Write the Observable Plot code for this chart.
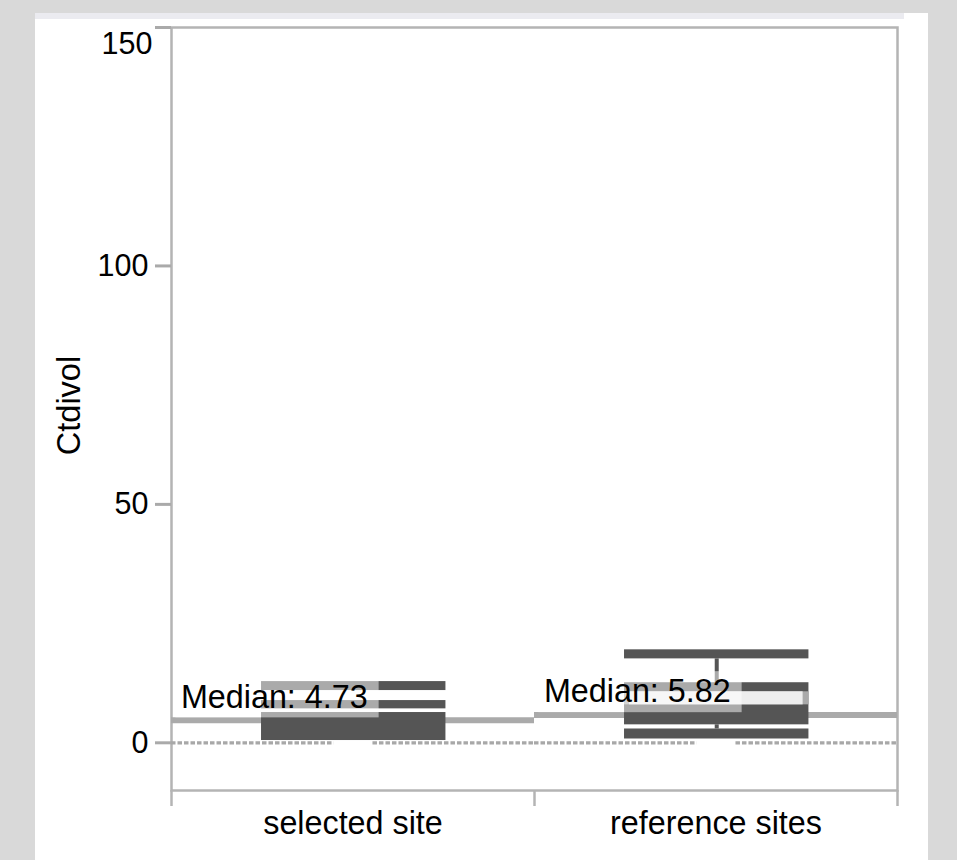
<!DOCTYPE html>
<html>
<head>
<meta charset="utf-8">
<script src="https://cdn.jsdelivr.net/npm/d3@7"></script>
<script src="https://cdn.jsdelivr.net/npm/@observablehq/plot@0.6"></script>
<style>
  html, body { margin: 0; padding: 0; }
  body { width: 957px; height: 860px; overflow: hidden; position: relative; background: #d9d9d9; font-family: "Liberation Sans", Arial, sans-serif; }
  #panel { position: absolute; left: 35px; top: 13px; width: 893px; height: 847px; background: #fff; }
  #strip { position: absolute; left: 0; top: 0; width: 869px; height: 6px; background: #ebebf0; z-index: 2; }
  #chart { position: absolute; left: 0; top: 0; }
</style>
</head>
<body>
<div id="panel"><div id="chart"></div><div id="strip"></div></div>
<script>
// ---- data ----
const categories = ["selected site", "reference sites"];
const medians = [4.73, 5.82];
const medianLabels = ["Median: 4.73", "Median: 5.82"];
const yTicks = [0, 50, 100, 150];
// dark box segments [low, high]
const selectedSegments = [[0.48, 6.35], [7.12, 8.86], [10.96, 12.84]];
const referenceSegments = [[0.8, 2.9], [3.77, 12.6], [17.6, 19.5]];
const referenceInnerBand = [[7.96, 10.7]];
const referenceWhiskers = [[2.9, 3.77], [12.6, 17.6]];

// ---- tables ----
const segs = [
  ...selectedSegments.map(([lo, hi]) => ({c: 0, lo, hi})),
  ...referenceSegments.map(([lo, hi]) => ({c: 1, lo, hi}))
];
const inner = referenceInnerBand.map(([lo, hi]) => ({c: 1, lo, hi}));
const whisk = referenceWhiskers.map(([lo, hi]) => ({c: 1, lo, hi}));
const med = medians.map((m, i) => ({c: i, m, label: medianLabels[i]}));
const zeroSegs = categories.flatMap((d, i) => [{a: i, b: i + 0.448}, {a: i + 0.555, b: i + 1}]);

const dark = "#555555";
const gray = "#aaaaaa";
const BL = 0.248, BR = 0.756;

const chart = Plot.plot({
  width: 893,
  height: 847,
  marginLeft: 136,
  marginRight: 31,
  marginTop: 14,
  marginBottom: 70,
  style: {background: "transparent", fontFamily: "'Liberation Sans', Arial, sans-serif", color: "#000", overflow: "visible"},
  x: {domain: [0, 2]},
  y: {domain: [-10, 150]},
  marks: [
    Plot.frame({stroke: "#b4b4b4", strokeWidth: 2.5}),
    Plot.ruleY(med, {y: "m", x1: d => d.c, x2: d => d.c + 1, stroke: gray, strokeWidth: 6}),
    Plot.ruleX(whisk, {x: d => d.c + 0.502, y1: "lo", y2: "hi", stroke: dark, strokeWidth: 4}),
    Plot.rect(segs, {x1: d => d.c + BL, x2: d => d.c + BR, y1: "lo", y2: "hi", fill: dark}),
    Plot.rect(inner, {x1: d => d.c + BL, x2: d => d.c + BR, y1: "lo", y2: "hi", fill: gray}),
    Plot.rect(inner, {x1: d => d.c + BL + 0.014, x2: d => d.c + BR - 0.016, y1: "lo", y2: "hi", fill: "#eeeeee"}),
    Plot.ruleY(zeroSegs, {y: 0, x1: "a", x2: "b", stroke: "#a8a8a8", strokeWidth: 3.2, strokeDasharray: "4.5,2"}),
    Plot.rect(med, {x1: d => d.c + 0.012, x2: d => d.c + 0.572, y1: d => d.m + 0.5, y2: d => d.m + 9.1, fill: "white", fillOpacity: 0.5}),
    Plot.text(med, {x: d => d.c + 0.026, y: "m", text: "label", dy: -23, textAnchor: "start", lineAnchor: "middle", fontSize: 32.3, fill: "#000"}),
    Plot.axisX({ticks: [0, 1, 2], tickSize: 16, tickFormat: () => "", label: null, stroke: "#b4b4b4", strokeWidth: 2.5}),
    Plot.axisY({ticks: yTicks, tickSize: 16, tickFormat: () => "", label: null, stroke: gray, strokeWidth: 3}),
    Plot.text(yTicks.filter(d => d !== 150), {x: 0, y: d => d, text: d => String(d), textAnchor: "end", lineAnchor: "middle", dx: -23, fontSize: 30.5, fill: "#000"}),
    Plot.text(yTicks.filter(d => d === 150), {x: 0, y: d => d, text: d => String(d), textAnchor: "end", lineAnchor: "middle", dx: -19, dy: 16.5, fontSize: 30.5, fill: "#000"}),
    Plot.text(categories, {x: (d, i) => i + 0.5, frameAnchor: "bottom", text: d => d, lineAnchor: "middle", dy: 33, fontSize: 32.3, fill: "#000"}),
    Plot.text(["Ctdivol"], {frameAnchor: "left", text: d => d, rotate: -90, textAnchor: "middle", lineAnchor: "middle", dx: -102, dy: -3.5, fontSize: 32.5, fill: "#000"})
  ]
});
document.getElementById("chart").appendChild(chart);
</script>
</body>
</html>
